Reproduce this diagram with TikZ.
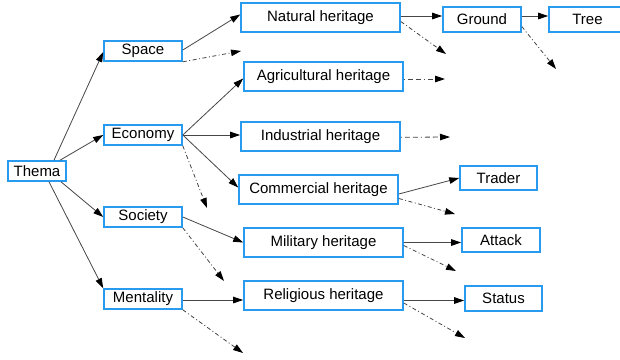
\documentclass[tikz,border=0pt]{standalone}
\usepackage{fontspec}
\setmainfont{Liberation Sans}
\usetikzlibrary{arrows.meta}
\definecolor{boxblue}{RGB}{40,155,240}
\definecolor{linegray}{RGB}{70,70,70}
\begin{document}
\begin{tikzpicture}[x=1pt,y=-1pt,
  box/.style={draw=boxblue,line width=1.6pt,fill=white,inner sep=0pt,
    font=\fontsize{15pt}{18pt}\selectfont,text=black},
  conn/.style={draw=linegray,line width=0.8pt,-{Triangle[length=10pt,width=6.5pt,fill=black,color=black]}},
  ddot/.style={conn,dash pattern=on 4pt off 2.5pt on 1pt off 2.5pt},
  ddash/.style={conn,dash pattern=on 1pt off 3pt on 5pt off 3pt on 5pt off 3pt}
]
\useasboundingbox (0,0) rectangle (620,359);
\fill[white] (0,0) rectangle (620,359);

% level 0
\node[box,minimum width=58pt,minimum height=20pt] (thema) at (37,171) {Thema};
% level 1
\node[box,minimum width=78pt,minimum height=20pt] (space) at (143,51) {Space};
\node[box,minimum width=78pt,minimum height=20pt] (economy) at (143,135) {Economy};
\node[box,minimum width=78pt,minimum height=20pt] (society) at (143,217) {Society};
\node[box,minimum width=78pt,minimum height=20pt] (mentality) at (143,299) {Mentality};
% level 2
\node[box,minimum width=159pt,minimum height=29pt] (natural) at (320.5,17.5) {Natural heritage};
\node[box,minimum width=159pt,minimum height=29pt] (agri) at (323.5,76.5) {Agricultural heritage};
\node[box,minimum width=159pt,minimum height=29pt] (indus) at (320.5,136.5) {Industrial heritage};
\node[box,minimum width=159pt,minimum height=29pt] (comm) at (318.5,189.5) {Commercial heritage};
\node[box,minimum width=159pt,minimum height=29pt] (mil) at (323.5,242.5) {Military heritage};
\node[box,minimum width=159pt,minimum height=29pt] (rel) at (323.5,295.5) {Religious heritage};
% level 3
\node[box,minimum width=78pt,minimum height=25pt] (ground) at (482,19.5) {Ground};
\node[box,minimum width=77pt,minimum height=25pt] (tree) at (587.5,19.5) {Tree};
\node[box,minimum width=77pt,minimum height=24pt] (trader) at (498.5,178) {Trader};
\node[box,minimum width=78pt,minimum height=24pt] (attack) at (501,240) {Attack};
\node[box,minimum width=77pt,minimum height=25pt] (status) at (503.5,298.5) {Status};

% free ends
\coordinate (eSpace) at (241,51);
\coordinate (eEcon) at (207,208);
\coordinate (eSoc) at (224,281);
\coordinate (eMent) at (243,353);
\coordinate (eNat) at (446,54);
\coordinate (eGround) at (556,69);
\coordinate (eAgri) at (445,79);
\coordinate (eIndus) at (450,137);
\coordinate (eComm) at (455,214);
\coordinate (eMil) at (456,271);
\coordinate (eRel) at (465,338);

% Thema
\draw[conn] ([xshift=17pt]thema.north) -- ([yshift=-1pt]space.west);
\draw[conn] ([xshift=23pt]thema.north) -- (economy.west);
\draw[conn] ([xshift=24pt]thema.south) -- (society.west);
\draw[conn] ([xshift=12pt]thema.south) -- (mentality.north west);
% Space
\draw[conn] ([yshift=1pt]space.east) -- ([yshift=3pt]natural.west);
\draw[ddot] (space.south east) -- (eSpace);
% Economy
\draw[conn] (economy.east) -- ([yshift=-2pt]agri.west);
\draw[conn] (economy.east) -- (economy.east -| indus.west);
\draw[conn] (economy.east) -- ([yshift=2pt]comm.west);
\draw[ddot] (economy.south east) -- (eEcon);
% Society
\draw[conn] (society.east) -- (mil.west);
\draw[ddot] (society.south east) -- (eSoc);
% Mentality
\draw[conn] ([yshift=-1pt]mentality.east) -- ([yshift=-1pt]mentality.east -| rel.west);
\draw[ddot] (mentality.south east) -- (eMent);
% Natural
\draw[conn] ([yshift=1.5pt]natural.east) -- ([yshift=1.5pt]natural.east -| ground.west);
\draw[ddot] ([yshift=-4pt]natural.east) -- (eNat);
\draw[conn] ([yshift=3.5pt]ground.east) -- ([yshift=3.5pt]ground.east -| tree.west);
\draw[ddot] ([yshift=-7pt]ground.east) -- (eGround);
% Agricultural, Industrial
\draw[ddash] ([yshift=-2.5pt]agri.east) -- (eAgri);
\draw[ddash] ([yshift=-0.8pt]indus.east) -- (eIndus);
% Commercial
\draw[conn] ([yshift=-4.5pt]comm.east) -- (trader.west);
\draw[ddot] ([yshift=-9pt]comm.east) -- (eComm);
% Military
\draw[conn] (mil.east) -- (mil.east -| attack.west);
\draw[ddot] ([yshift=-3pt]mil.east) -- (eMil);
% Religious
\draw[conn] ([yshift=-5pt]rel.east) -- ([yshift=-5pt]rel.east -| status.west);
\draw[ddot] ([yshift=-7.5pt]rel.east) -- (eRel);
\end{tikzpicture}
\end{document}
